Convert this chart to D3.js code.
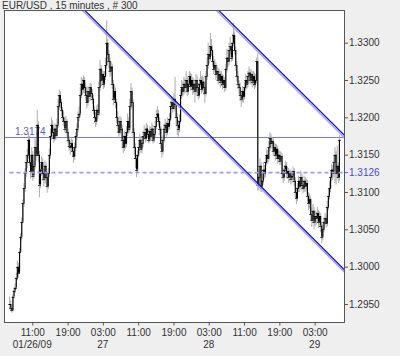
<!DOCTYPE html>
<html>
<head>
<meta charset="utf-8">
<script src="https://cdn.jsdelivr.net/npm/d3@7"></script>
<style>
  body { margin: 0; background: #efefef; }
  text { font-family: "Liberation Sans", Arial, sans-serif; font-size: 10px; }
</style>
</head>
<body>
<svg id="chart" width="400" height="356"></svg>
<script>
// EUR/USD 15 min bars, prices in pips (3174 -> 1.3174)
const barStart = new Date(2009, 0, 26, 5, 45)
const barMinutes = 15

const closePips = [
  2950,2945,2942,2960,2968,2972,2985,3000,2992,3020,
  3040,3060,3085,3105,3125,3140,3150,3170,3140,3128,
  3150,3122,3135,3160,3150,3190,3150,3110,3130,3140,
  3125,3118,3135,3120,3108,3125,3150,3175,3190,3180,
  3172,3185,3176,3190,3215,3230,3220,3210,3200,3195,
  3185,3195,3180,3170,3162,3160,3165,3155,3148,3160,
  3175,3185,3200,3205,3230,3245,3238,3250,3240,3230,
  3220,3235,3228,3240,3232,3225,3210,3200,3195,3210,
  3205,3240,3265,3250,3258,3245,3255,3270,3300,3285,
  3275,3262,3268,3245,3225,3235,3220,3200,3190,3180,
  3195,3185,3170,3160,3175,3165,3180,3195,3185,3215,
  3235,3220,3180,3160,3145,3130,3150,3160,3170,3158,
  3165,3175,3180,3172,3185,3178,3170,3182,3175,3185,
  3170,3178,3188,3200,3205,3195,3185,3165,3155,3170,
  3185,3190,3180,3192,3188,3198,3215,3220,3212,3225,
  3218,3200,3190,3185,3195,3230,3240,3235,3245,3240,
  3250,3235,3245,3255,3242,3250,3238,3245,3235,3250,
  3240,3230,3245,3250,3238,3248,3240,3232,3255,3270,
  3285,3280,3295,3290,3275,3265,3270,3258,3262,3250,
  3258,3248,3255,3245,3250,3240,3265,3280,3275,3290,
  3295,3280,3300,3310,3290,3270,3255,3245,3240,3230,
  3225,3235,3228,3240,3250,3245,3255,3260,3250,3258,
  3248,3255,3245,3250,3275,3110,3120,3135,3108,3115,
  3130,3125,3140,3150,3145,3160,3172,3165,3168,3155,
  3160,3150,3158,3145,3150,3142,3148,3125,3120,3130,
  3135,3125,3128,3120,3125,3118,3122,3128,3115,3100,
  3092,3105,3115,3108,3120,3110,3105,3115,3108,3112,
  3095,3085,3090,3070,3062,3075,3060,3068,3065,3072,
  3060,3068,3055,3040,3050,3060,3065,3058,3080,3095,
  3105,3120,3130,3125,3140,3150,3125,3135,3120,3170
]

const highPips = [
  2960,2955,2950,2964,2972,2978,2992,3008,3005,3025,
  3045,3066,3090,3112,3132,3148,3158,3180,3175,3148,
  3160,3155,3142,3172,3168,3210,3195,3155,3138,3148,
  3145,3132,3142,3140,3125,3132,3158,3185,3200,3196,
  3186,3192,3190,3198,3225,3237,3235,3225,3214,3208,
  3200,3202,3198,3185,3175,3168,3172,3170,3160,3166,
  3180,3192,3208,3215,3240,3254,3252,3256,3254,3246,
  3235,3242,3240,3246,3245,3238,3230,3215,3207,3216,
  3218,3248,3277,3270,3264,3262,3262,3280,3330,3305,
  3290,3280,3275,3272,3250,3244,3240,3225,3208,3195,
  3202,3200,3190,3176,3182,3180,3188,3205,3200,3225,
  3246,3240,3224,3186,3165,3150,3156,3168,3178,3175,
  3172,3182,3190,3186,3192,3190,3184,3188,3187,3193,
  3190,3185,3195,3210,3215,3210,3200,3188,3170,3176,
  3192,3198,3194,3200,3198,3206,3222,3228,3225,3232,
  3254,3222,3206,3196,3204,3238,3250,3248,3254,3252,
  3262,3255,3252,3262,3260,3258,3254,3252,3250,3258,
  3256,3246,3252,3262,3255,3256,3254,3246,3262,3280,
  3300,3296,3313,3305,3296,3282,3278,3274,3270,3266,
  3265,3262,3262,3258,3256,3254,3272,3292,3290,3300,
  3308,3300,3312,3327,3315,3295,3275,3262,3250,3246,
  3236,3242,3240,3248,3258,3256,3262,3268,3265,3264,
  3262,3262,3260,3258,3280,3286,3130,3145,3140,3125,
  3140,3136,3148,3158,3156,3168,3180,3178,3174,3172,
  3166,3165,3164,3162,3156,3155,3154,3152,3132,3136,
  3142,3140,3134,3132,3130,3130,3128,3134,3132,3120,
  3106,3112,3122,3120,3129,3125,3116,3122,3120,3118,
  3116,3100,3098,3094,3078,3084,3080,3075,3074,3080,
  3076,3074,3072,3060,3058,3066,3072,3070,3088,3104,
  3115,3128,3138,3136,3150,3160,3155,3162,3140,3176
]

const lowPips = [
  2944,2940,2938,2940,2958,2965,2970,2982,2985,2990,
  3018,3035,3058,3080,3100,3120,3132,3145,3135,3118,
  3122,3115,3118,3130,3142,3148,3140,3093,3105,3122,
  3115,3108,3112,3110,3099,3104,3120,3145,3170,3172,
  3166,3168,3170,3172,3186,3210,3212,3202,3194,3188,
  3180,3180,3174,3165,3156,3150,3155,3148,3139,3143,
  3155,3170,3180,3195,3200,3225,3230,3232,3232,3222,
  3212,3215,3220,3222,3226,3218,3204,3193,3187,3190,
  3198,3202,3235,3242,3245,3238,3240,3250,3265,3278,
  3266,3254,3256,3238,3216,3220,3212,3192,3180,3172,
  3176,3178,3160,3152,3155,3158,3160,3175,3178,3180,
  3210,3212,3172,3150,3132,3120,3125,3146,3155,3152,
  3152,3160,3170,3166,3168,3172,3165,3166,3168,3170,
  3165,3166,3174,3184,3196,3188,3176,3158,3146,3150,
  3166,3180,3174,3176,3182,3184,3194,3210,3206,3208,
  3210,3190,3176,3174,3180,3192,3225,3228,3230,3232,
  3236,3228,3230,3240,3236,3238,3230,3232,3220,3230,
  3232,3224,3226,3240,3232,3234,3230,3219,3228,3250,
  3265,3272,3276,3282,3268,3258,3260,3250,3252,3244,
  3246,3240,3242,3238,3240,3234,3236,3260,3268,3270,
  3284,3274,3276,3295,3284,3262,3248,3238,3232,3222,
  3214,3220,3220,3224,3236,3238,3240,3250,3244,3245,
  3240,3242,3238,3240,3246,3102,3102,3115,3100,3103,
  3110,3118,3120,3136,3138,3140,3155,3158,3158,3148,
  3148,3142,3144,3138,3140,3136,3136,3118,3112,3115,
  3124,3118,3118,3112,3114,3110,3112,3116,3108,3092,
  3084,3088,3100,3100,3104,3102,3098,3100,3100,3102,
  3086,3076,3078,3062,3053,3058,3050,3054,3056,3060,
  3052,3055,3046,3031,3036,3046,3056,3052,3054,3076,
  3090,3100,3115,3116,3120,3112,3110,3118,3112,3115
]

// channel lines: [bar index, price] at both ends
const channelLow = [[60, 1.3356], [310, 1.2987]]
const channelHigh = [[180, 1.3358], [310, 1.3167]]

const lastLevel = 1.3174
const markLevel = 1.3126

const yTicks = [1.2950, 1.3000, 1.3050, 1.3100, 1.3150, 1.3200, 1.3250, 1.3300]
const xTicks = ["2009-01-26T11:00", "2009-01-26T19:00", "2009-01-27T03:00", "2009-01-27T11:00",
  "2009-01-27T19:00", "2009-01-28T03:00", "2009-01-28T11:00", "2009-01-28T19:00", "2009-01-29T03:00"]
const dateLabels = [["2009-01-26T11:00", "01/26/09"], ["2009-01-27T03:00", "27"],
  ["2009-01-28T03:00", "28"], ["2009-01-29T03:00", "29"]]

let barTime = i => new Date(barStart.getTime() + i * barMinutes * 60000)
let price = p => 1 + p / 10000

const bars = closePips.map((c, i) => ({
  t: barTime(i),
  open: price(i ? closePips[i - 1] : c),
  close: price(c),
  high: price(highPips[i]),
  low: price(lowPips[i])
}))

const plot = {left: 4.5, top: 10.5, right: 344.5, bottom: 322.5}
const svg = d3.select("#chart")

let x = d3.scaleTime()
  .domain([new Date(2009, 0, 26, 4, 42), new Date(2009, 0, 29, 9, 46)])
  .range([plot.left, plot.right])
let y = d3.scaleLinear()
  .domain([1.29252, 1.33431])
  .range([plot.bottom, plot.top])

//title
svg.append("text").attr("x", 2).attr("y", 8.5).attr("fill", "#333")
  .text("EUR/USD , 15 minutes , # 300")

//plot area
svg.append("rect")
  .attr("x", plot.left).attr("y", plot.top)
  .attr("width", plot.right - plot.left).attr("height", plot.bottom - plot.top)
  .attr("fill", "#fff")

svg.append("clipPath").attr("id", "clip").append("rect")
  .attr("x", plot.left).attr("y", plot.top)
  .attr("width", plot.right - plot.left).attr("height", plot.bottom - plot.top)

let g = svg.append("g").attr("clip-path", "url(#clip)")

//last price line + label
g.append("line")
  .attr("x1", plot.left).attr("x2", plot.right)
  .attr("y1", Math.round(y(lastLevel)) + 0.5).attr("y2", Math.round(y(lastLevel)) + 0.5)
  .attr("stroke", "#7a7ae0").attr("stroke-width", 1)
g.append("text").attr("x", 15).attr("y", Math.round(y(lastLevel)) - 2)
  .attr("fill", "#5a5ad8").text(d3.format(".4f")(lastLevel))

//bars
let gb = g.append("g")
gb.selectAll("line.wick").data(bars).enter().append("line")
  .attr("class", "wick")
  .attr("x1", d => x(d.t) + 0.5).attr("x2", d => x(d.t) + 0.5)
  .attr("y1", d => y(d.high)).attr("y2", d => y(d.low))
  .attr("stroke", "#acacac").attr("stroke-width", 1)
gb.selectAll("line.body").data(bars).enter().append("line")
  .attr("class", "body")
  .attr("x1", d => x(d.t) + 0.5).attr("x2", d => x(d.t) + 0.5)
  .attr("y1", d => y(d.open)).attr("y2", d => y(d.close) === y(d.open) ? y(d.open) + 1 : y(d.close))
  .attr("stroke", "#000").attr("stroke-width", 1.1)
gb.selectAll("line.tick").data(bars).enter().append("line")
  .attr("class", "tick")
  .attr("x1", d => x(d.t) - 1).attr("x2", d => x(d.t) + 2)
  .attr("y1", d => Math.round(y(d.close)) + 0.5).attr("y2", d => Math.round(y(d.close)) + 0.5)
  .attr("stroke", "#000").attr("stroke-width", 0.7)

//dashed marker level
g.append("line")
  .attr("x1", plot.left + 5).attr("x2", plot.right)
  .attr("y1", y(markLevel)).attr("y2", y(markLevel))
  .attr("stroke", "#9c9cf6").attr("stroke-width", 1.6)
  .attr("stroke-dasharray", "4,3")

//channel lines
let chLine = d3.line().x(d => x(barTime(d[0]))).y(d => y(d[1]))
;[channelLow, channelHigh].forEach(pts => {
  g.append("path").attr("d", chLine(pts)).attr("fill", "none")
    .attr("stroke", "#9e9ef0").attr("stroke-width", 1.4)
    .attr("transform", "translate(0,2.4)")
  g.append("path").attr("d", chLine(pts)).attr("fill", "none")
    .attr("stroke", "#0c0cc4").attr("stroke-width", 1.2)
})

//border
svg.append("rect")
  .attr("x", plot.left).attr("y", plot.top)
  .attr("width", plot.right - plot.left).attr("height", plot.bottom - plot.top)
  .attr("fill", "none").attr("stroke", "#555")

//right axis
let yAxis = d3.axisRight(y).tickValues(yTicks).tickFormat(d3.format(".4f"))
  .tickSize(3.5).tickPadding(1)
let ga = svg.append("g").attr("transform", `translate(${plot.right},0)`).call(yAxis)
ga.select(".domain").remove()
ga.selectAll("line").attr("stroke", "#555")
ga.selectAll("text").attr("fill", "#333").style("font-size", "10px")
  .style("font-family", "'Liberation Sans', Arial, sans-serif")

//marker label on axis
let gm = svg.append("g").attr("transform", `translate(${plot.right},${y(markLevel)})`)
gm.append("line").attr("x1", 0).attr("x2", 3.5).attr("stroke", "#5a5ad8")
gm.append("text").attr("x", 4.5).attr("dy", "0.32em").attr("fill", "#4848e0")
  .text(d3.format(".4f")(markLevel))

//bottom axis
let xAxis = d3.axisBottom(x).tickValues(xTicks.map(s => new Date(s)))
  .tickFormat(d3.timeFormat("%H:%M")).tickSize(3).tickPadding(3.5)
let gx = svg.append("g").attr("transform", `translate(0,${plot.bottom})`).call(xAxis)
gx.select(".domain").remove()
gx.selectAll("line").attr("stroke", "#555")
gx.selectAll("text").attr("fill", "#333").style("font-size", "10px")
  .style("font-family", "'Liberation Sans', Arial, sans-serif")

svg.append("g").selectAll("text").data(dateLabels).enter().append("text")
  .attr("x", d => x(new Date(d[0])))
  .attr("y", 348)
  .attr("text-anchor", "middle")
  .attr("fill", "#333")
  .text(d => d[1])
</script>
</body>
</html>
